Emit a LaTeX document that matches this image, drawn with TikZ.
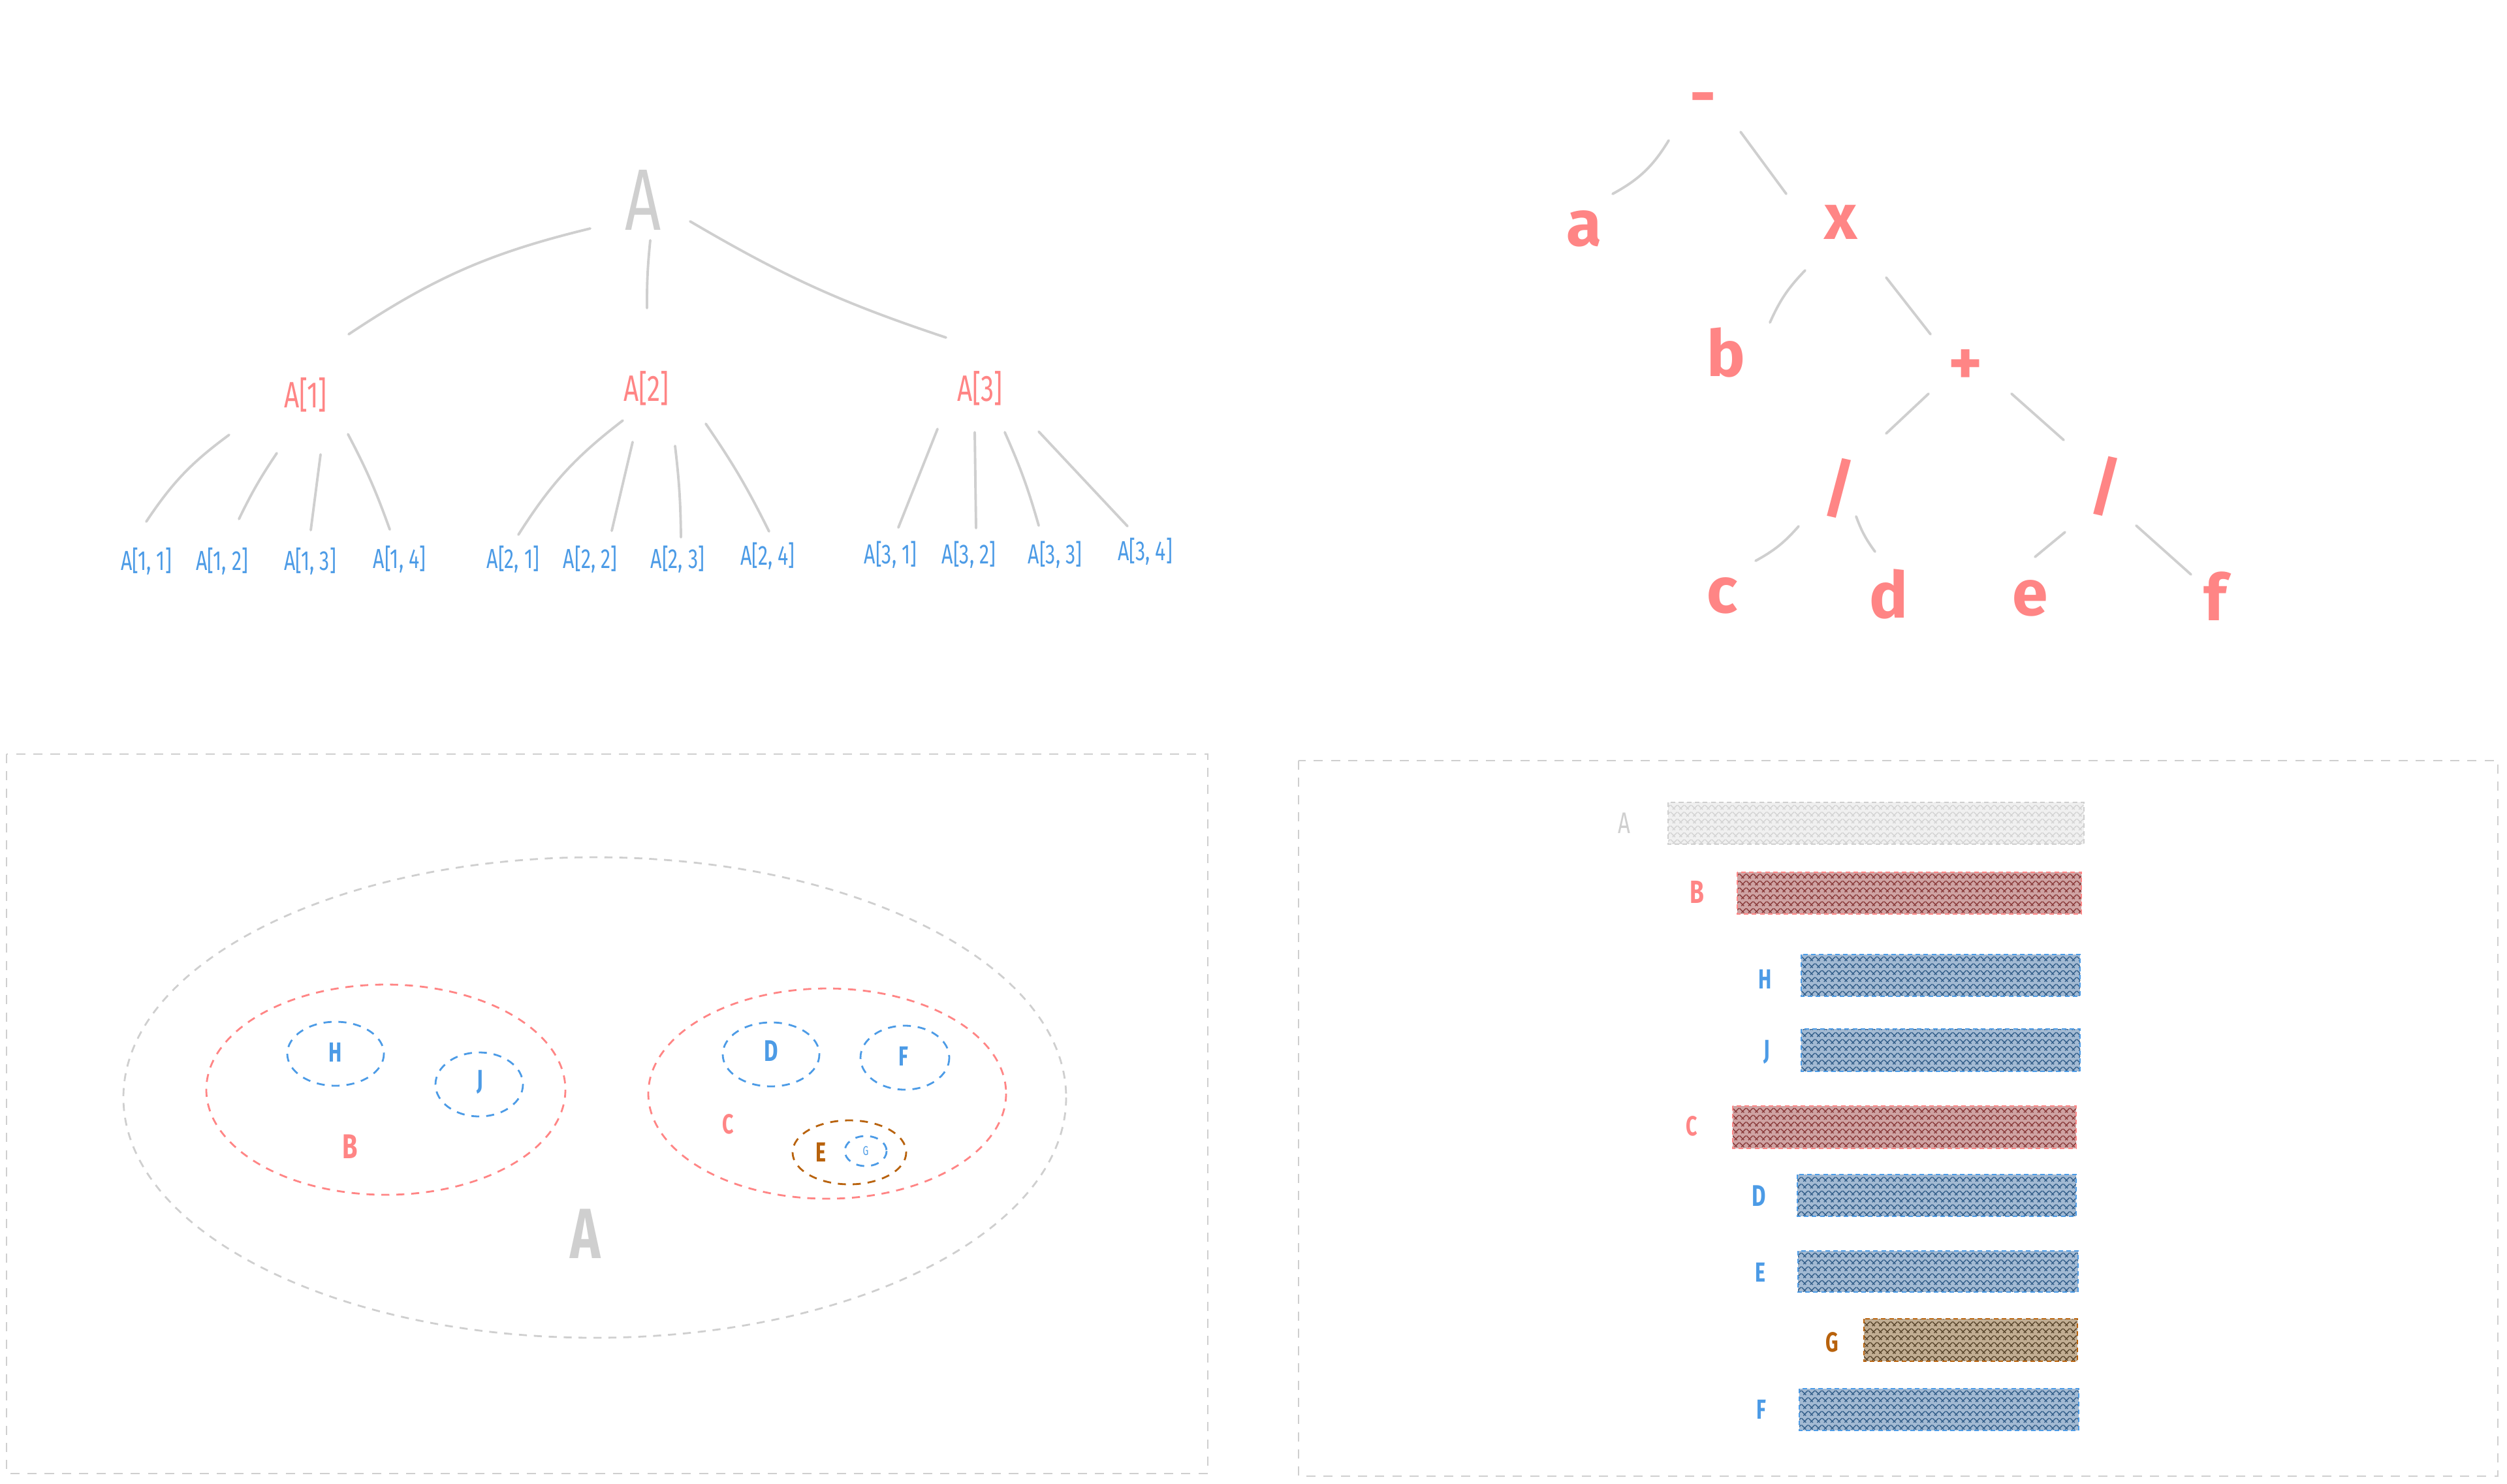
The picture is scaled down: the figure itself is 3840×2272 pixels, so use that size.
\documentclass[tikz,border=0pt]{standalone}
\usepackage{fontspec}
\setmainfont{Fira Sans}
\newfontfamily\hand[FakeStretch=0.72]{Fira Sans}
\usetikzlibrary{patterns}
\definecolor{lgray}{HTML}{CFCFCF}
\definecolor{sred}{HTML}{FF8585}
\definecolor{sblue}{HTML}{4C9BE6}
\definecolor{sbrown}{HTML}{B8620C}
\definecolor{fgray}{HTML}{F0F0F0}
\definecolor{fred}{HTML}{CFA3A3}
\definecolor{fblue}{HTML}{A3BAD3}
\definecolor{fbrown}{HTML}{C2AE93}
\definecolor{hred}{HTML}{8A3C3C}
\definecolor{hblue}{HTML}{345F8A}
\definecolor{hbrown}{HTML}{5A472E}
\definecolor{hgray}{HTML}{D4D4D4}
\begin{document}
\begin{tikzpicture}[x=0.01cm,y=-0.01cm,
  edge/.style={draw=lgray,line width=1.1pt,line cap=round},
  lbl/.style={inner sep=0pt},
  big/.style={lbl,font=\hand\fontsize{38}{42}\selectfont},
  mid/.style={lbl,font=\hand\fontsize{16}{18}\selectfont},
  leaf/.style={lbl,text=sblue,font=\hand\fontsize{12}{14}\selectfont},
  sym/.style={lbl,text=sred,font=\bfseries\fontsize{28}{30}\selectfont},
  tag/.style={lbl,font=\hand\bfseries\fontsize{14}{16}\selectfont},
  panel/.style={draw=lgray,line width=0.8pt,dash pattern=on 4pt off 3.5pt},
  ring/.style={line width=0.8pt,dash pattern=on 3.5pt off 3pt},
  bar/.style n args={3}{preaction={fill=#2},pattern=crosshatch,pattern color=#3,
    draw=#1,line width=0.7pt,dash pattern=on 2pt off 1.5pt}]
\useasboundingbox (0,0) rectangle (3840,2272);

% ---------- top-left tree ----------
\node[big,text=lgray] (A) at (985,306) {A};
\node[mid,text=sred] (A1) at (468,605) {A[1]};
\node[mid,text=sred] (A2) at (990,595) {A[2]};
\node[mid,text=sred] (A3) at (1501,595) {A[3]};
\node[leaf] (L11) at (224,860) {A[1, 1]};
\node[leaf] (L12) at (340,860) {A[1, 2]};
\node[leaf] (L13) at (475,860) {A[1, 3]};
\node[leaf] (L14) at (612,857) {A[1, 4]};
\node[leaf] (L21) at (786,857) {A[2, 1]};
\node[leaf] (L22) at (904,857) {A[2, 2]};
\node[leaf] (L23) at (1038,857) {A[2, 3]};
\node[leaf] (L24) at (1176,852) {A[2, 4]};
\node[leaf] (L31) at (1364,850) {A[3, 1]};
\node[leaf] (L32) at (1484,850) {A[3, 2]};
\node[leaf] (L33) at (1616,850) {A[3, 3]};
\node[leaf] (L34) at (1754,845) {A[3, 4]};

\draw[edge] ([shift={(-81,44)}]A.center) to[bend right=10] ([shift={(66,-93)}]A1.center);
\draw[edge] ([shift={(11,62)}]A.center) to[bend right=3] ([shift={(1,-123)}]A2.center);
\draw[edge] ([shift={(72,33)}]A.center) to[bend right=6] ([shift={(-52,-78)}]A3.center);
\draw[edge] ([shift={(-117,61)}]A1.center) to[bend right=10] ([shift={(0,-61)}]L11.center);
\draw[edge] ([shift={(-44,89)}]A1.center) to[bend right=4] ([shift={(26,-65)}]L12.center);
\draw[edge] ([shift={(23,91)}]A1.center) -- ([shift={(1,-48)}]L13.center);
\draw[edge] ([shift={(65,60)}]A1.center) to[bend left=4] ([shift={(-15,-46)}]L14.center);
\draw[edge] ([shift={(-36,49)}]A2.center) to[bend right=10] ([shift={(8,-38)}]L21.center);
\draw[edge] ([shift={(-21,82)}]A2.center) -- ([shift={(33,-44)}]L22.center);
\draw[edge] ([shift={(44,88)}]A2.center) to[bend left=3] ([shift={(5,-34)}]L23.center);
\draw[edge] ([shift={(91,54)}]A2.center) to[bend left=4] ([shift={(2,-38)}]L24.center);
\draw[edge] ([shift={(-65,62)}]A3.center) -- ([shift={(12,-42)}]L31.center);
\draw[edge] ([shift={(-8,67)}]A3.center) -- ([shift={(11,-41)}]L32.center);
\draw[edge] ([shift={(38,67)}]A3.center) to[bend left=4] ([shift={(-25,-45)}]L33.center);
\draw[edge] ([shift={(90,66)}]A3.center) -- ([shift={(-27,-39)}]L34.center);

% ---------- top-right tree ----------
\node[sym] (mn) at (2608,160) {-};
\node[sym] (ta) at (2426,350) {a};
\node[sym] (tx) at (2820,340) {x};
\node[sym] (tb) at (2644,540) {b};
\node[sym] (tp) at (3011,562) {+};
\node[sym] (sL) at (2817,748) {/};
\node[sym] (sR) at (3225,745) {/};
\node[sym] (tc) at (2638,912) {c};
\node[sym] (td) at (2893,910) {d};
\node[sym] (te) at (3110,916) {e};
\node[sym] (tf) at (3393,913) {f};

\draw[edge] ([shift={(-52,55)}]mn.center) to[bend left=15] ([shift={(44,-53)}]ta.center);
\draw[edge] ([shift={(58,42)}]mn.center) -- ([shift={(-84,-43)}]tx.center);
\draw[edge] ([shift={(-55,74)}]tx.center) to[bend right=10] ([shift={(67,-46)}]tb.center);
\draw[edge] ([shift={(69,85)}]tx.center) -- ([shift={(-54,-50)}]tp.center);
\draw[edge] ([shift={(-57,41)}]tp.center) -- ([shift={(72,-84)}]sL.center);
\draw[edge] ([shift={(70,41)}]tp.center) -- ([shift={(-64,-71)}]sR.center);
\draw[edge] ([shift={(-62,58)}]sL.center) to[bend left=10] ([shift={(51,-53)}]tc.center);
\draw[edge] ([shift={(26,43)}]sL.center) to[bend right=8] ([shift={(-21,-65)}]td.center);
\draw[edge] ([shift={(-62,70)}]sR.center) -- ([shift={(7,-63)}]te.center);
\draw[edge] ([shift={(47,60)}]sR.center) -- ([shift={(-37,-33)}]tf.center);

% ---------- bottom-left: nested sets ----------
\draw[panel] (10,1155) rectangle (1850,2257);
\draw[ring,draw=lgray] (911,1681) ellipse [x radius=722, y radius=368];
\draw[ring,draw=sred] (591,1669) ellipse [x radius=275, y radius=161];
\draw[ring,draw=sblue] (514,1614) ellipse [x radius=74, y radius=49];
\draw[ring,draw=sblue] (734,1661) ellipse [x radius=67, y radius=49];
\draw[ring,draw=sred] (1267,1675) ellipse [x radius=274, y radius=161];
\draw[ring,draw=sblue] (1181,1615) ellipse [x radius=74, y radius=49];
\draw[ring,draw=sblue] (1386,1620) ellipse [x radius=68, y radius=49];
\draw[ring,draw=sbrown] (1301,1765) ellipse [x radius=87, y radius=49];
\draw[ring,draw=sblue] (1326,1763) ellipse [x radius=32, y radius=23];

\node[lbl,text=lgray,font=\hand\bfseries\fontsize{31}{34}\selectfont] (vA) at (897,1890) {A};
\node[tag,text=sred,font=\hand\bfseries\fontsize{15}{17}\selectfont] (vB) at (536,1756) {B};
\node[tag,text=sred,font=\hand\bfseries\fontsize{12}{14}\selectfont] (vC) at (1115,1722) {C};
\node[tag,text=sblue,font=\hand\bfseries\fontsize{12}{14}\selectfont] (vH) at (514,1612) {H};
\node[tag,text=sblue,font=\hand\bfseries\fontsize{12}{14}\selectfont] (vJ) at (735,1657) {J};
\node[tag,text=sblue,font=\hand\bfseries\fontsize{13}{15}\selectfont] (vD) at (1181,1610) {D};
\node[tag,text=sblue,font=\hand\bfseries\fontsize{12}{14}\selectfont] (vF) at (1384,1618) {F};
\node[tag,text=sbrown,font=\hand\bfseries\fontsize{12}{14}\selectfont] (vE) at (1257,1765) {E};
\node[tag,text=sblue,font=\hand\fontsize{5.5}{6}\selectfont] (vG) at (1326,1763) {G};

% ---------- bottom-right: bars ----------
\draw[panel] (1989,1165) rectangle (3826,2261);
\path[bar={lgray}{fgray}{hgray}] (2555,1229) rectangle (3192,1293);
\path[bar={sred}{fred}{hred}] (2661,1336) rectangle (3188,1400);
\path[bar={sblue}{fblue}{hblue}] (2759,1462) rectangle (3186,1526);
\path[bar={sblue}{fblue}{hblue}] (2759,1576) rectangle (3186,1641);
\path[bar={sred}{fred}{hred}] (2654,1694) rectangle (3180,1759);
\path[bar={sblue}{fblue}{hblue}] (2753,1799) rectangle (3180,1863);
\path[bar={sblue}{fblue}{hblue}] (2754,1916) rectangle (3183,1979);
\path[bar={sbrown}{fbrown}{hbrown}] (2855,2020) rectangle (3182,2085);
\path[bar={sblue}{fblue}{hblue}] (2756,2127) rectangle (3184,2191);

\node[tag,text=lgray,font=\hand\fontsize{13}{15}\selectfont] (bA) at (2488,1261) {A};
\node[tag,text=sred] (bB) at (2599,1366) {B};
\node[tag,text=sblue,font=\hand\bfseries\fontsize{12}{14}\selectfont] (bH) at (2704,1500) {H};
\node[tag,text=sblue,font=\hand\bfseries\fontsize{12}{14}\selectfont] (bJ) at (2706,1611) {J};
\node[tag,text=sred,font=\hand\bfseries\fontsize{12}{14}\selectfont] (bC) at (2591,1725) {C};
\node[tag,text=sblue,font=\hand\bfseries\fontsize{13}{15}\selectfont] (bD) at (2694,1832) {D};
\node[tag,text=sblue,font=\hand\bfseries\fontsize{12}{14}\selectfont] (bE) at (2696,1949) {E};
\node[tag,text=sbrown,font=\hand\bfseries\fontsize{12}{14}\selectfont] (bG) at (2806,2056) {G};
\node[tag,text=sblue,font=\hand\bfseries\fontsize{12}{14}\selectfont] (bF) at (2698,2159) {F};
\end{tikzpicture}
\end{document}
